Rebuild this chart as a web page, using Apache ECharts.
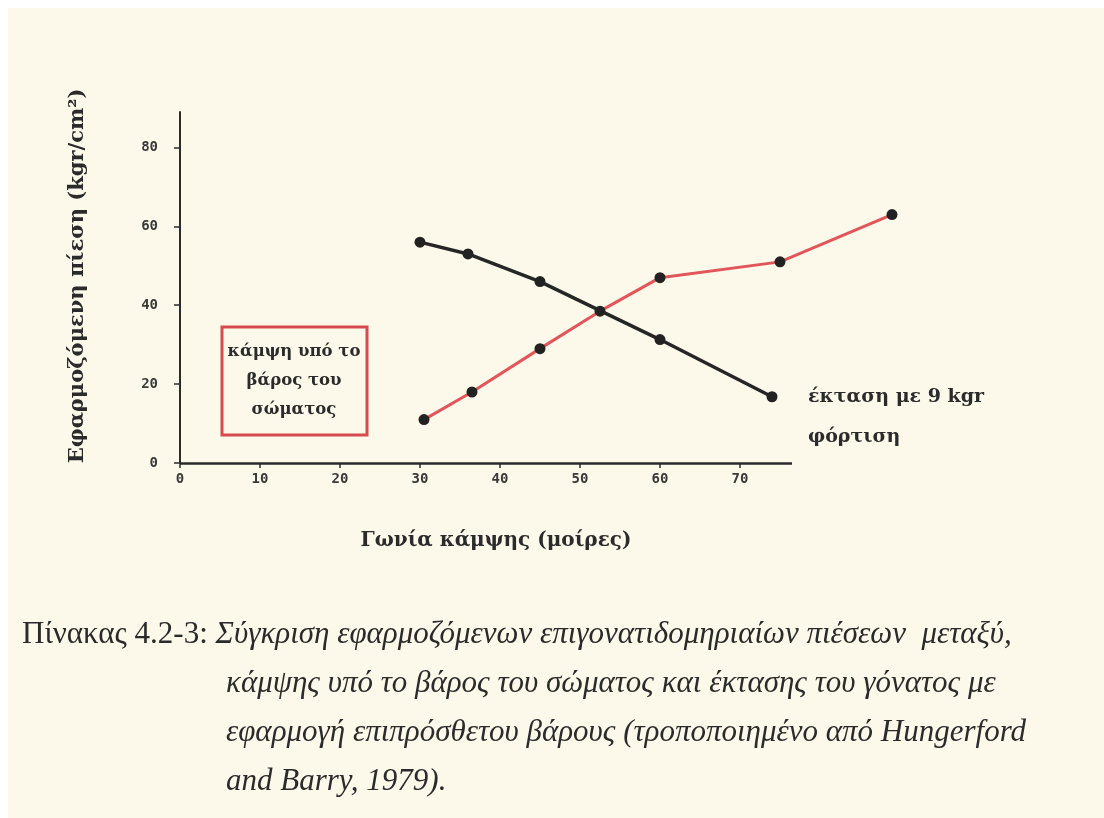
<!DOCTYPE html>
<html>
<head>
<meta charset="utf-8">
<script src="https://cdn.jsdelivr.net/npm/echarts@6/dist/echarts.min.js"></script>
<style>
  html, body { margin: 0; padding: 0; background: #fff; }
  #chart { width: 1104px; height: 818px; }
</style>
</head>
<body>
<div id="chart"></div>
<script>
// values: [angle in degrees, pressure kgr/cm2]
const extensionLoaded = [[30, 56], [36, 53], [45, 46], [60, 31.3], [74, 16.8]];
const flexionBodyWeight = [[30.5, 11], [36.5, 18], [45, 29], [52.5, 38.5], [60, 47], [75, 51], [89, 63]];
const xTicks = [0, 10, 20, 30, 40, 50, 60, 70];
const yTicks = [0, 20, 40, 60, 80];
const xAxisEnd = 76.5; // drawn x axis stops here, the red line runs past it

const bg = "#fdf9ea";
const ink = "#2b2b2b";
const boldSerif = (size) => "bold " + size + "px 'DejaVu Serif', 'Liberation Serif', serif";
const capFont = (style) => style + " 31px 'Liberation Serif', serif";

const chart = echarts.init(document.getElementById("chart"));

function txt(text, x, y, font, align, extra) {
  return Object.assign({
    type: "text",
    x: x,
    y: y,
    z: 10,
    style: {
      text: text,
      font: font,
      fill: ink,
      textAlign: align || "left",
      textVerticalAlign: "middle",
    },
  }, extra || {});
}

chart.setOption({
  backgroundColor: "#fff",
  animation: false,
  grid: {
    left: 180,
    right: 204,
    top: 112,
    bottom: 355,
  },
  xAxis: {
    type: "value",
    min: 0,
    max: 90,
    interval: 10,
    axisLine: { show: false },
    axisTick: {
      show: true,
      length: 5,
      customValues: xTicks,
      lineStyle: { color: ink, width: 1.5 },
    },
    axisLabel: {
      customValues: xTicks,
      margin: 9,
      color: "#3a3a3a",
      fontFamily: "'DejaVu Sans Mono', monospace",
      fontWeight: "bold",
      fontSize: 14,
    },
    splitLine: { show: false },
  },
  yAxis: {
    type: "value",
    min: 0,
    max: 89,
    interval: 20,
    axisLine: {
      show: true,
      lineStyle: { color: ink, width: 2 },
    },
    axisTick: {
      show: true,
      length: 6,
      customValues: yTicks,
      lineStyle: { color: ink, width: 1.5 },
    },
    axisLabel: {
      customValues: yTicks,
      margin: 22,
      color: "#3a3a3a",
      fontFamily: "'DejaVu Sans Mono', monospace",
      fontWeight: "bold",
      fontSize: 14,
    },
    splitLine: { show: false },
  },
  series: [
    {
      name: "έκταση με 9 kgr φόρτιση",
      type: "line",
      data: extensionLoaded,
      symbol: "circle",
      symbolSize: 11,
      itemStyle: { color: "#222" },
      lineStyle: { color: "#262626", width: 3.5 },
      z: 3,
      // the x axis line, only as far as the original drew it
      markLine: {
        silent: true,
        symbol: "none",
        label: { show: false },
        lineStyle: { color: ink, width: 2.5, type: "solid" },
        data: [[{ coord: [0, 0] }, { coord: [xAxisEnd, 0] }]],
      },
    },
    {
      name: "κάμψη υπό το βάρος του σώματος",
      type: "line",
      data: flexionBodyWeight,
      symbol: "circle",
      symbolSize: 11,
      itemStyle: { color: "#222" },
      lineStyle: { color: "#e0565a", width: 3 },
      z: 4,
    },
  ],
  graphic: [
    // cream page behind the figure
    {
      type: "rect",
      z: -10,
      silent: true,
      shape: { x: 8, y: 8, width: 1096, height: 810 },
      style: { fill: bg },
    },
    // boxed label for the red line
    {
      type: "rect",
      z: 9,
      shape: { x: 222, y: 327, width: 145, height: 108 },
      style: { fill: bg, stroke: "#d64b4f", lineWidth: 3 },
    },
    txt("κάμψη υπό το", 294, 352, boldSerif(16.5), "center"),
    txt("βάρος του", 294, 381, boldSerif(16.5), "center"),
    txt("σώματος", 294, 410, boldSerif(16.5), "center"),
    // label for the black line
    txt("έκταση με 9 kgr", 808, 397, boldSerif(19), "left"),
    txt("φόρτιση", 808, 437, boldSerif(19), "left"),
    // axis titles
    txt("Γωνία κάμψης (μοίρες)", 496, 541, boldSerif(20), "center"),
    txt("Εφαρμοζόμενη πίεση (kgr/cm²)", 78, 276, boldSerif(21), "center", { rotation: Math.PI / 2 }),
    // caption
    {
      type: "text",
      x: 22,
      y: 635,
      z: 10,
      style: {
        text: "{r|Πίνακας 4.2-3: }{i|Σύγκριση εφαρμοζόμενων επιγονατιδομηριαίων πιέσεων  μεταξύ,}",
        fill: "#2a2a2a",
        textVerticalAlign: "middle",
        rich: {
          r: { font: capFont("normal"), fill: "#2a2a2a" },
          i: { font: capFont("italic"), fill: "#2a2a2a" },
        },
      },
    },
    txt("κάμψης υπό το βάρος του σώματος και έκτασης του γόνατος με", 226, 684, capFont("italic"), "left"),
    txt("εφαρμογή επιπρόσθετου βάρους (τροποποιημένο από Hungerford", 226, 733, capFont("italic"), "left"),
    txt("and Barry, 1979).", 226, 782, capFont("italic"), "left"),
  ],
});

window.addEventListener("resize", () => {
  chart.resize();
});
</script>
</body>
</html>
